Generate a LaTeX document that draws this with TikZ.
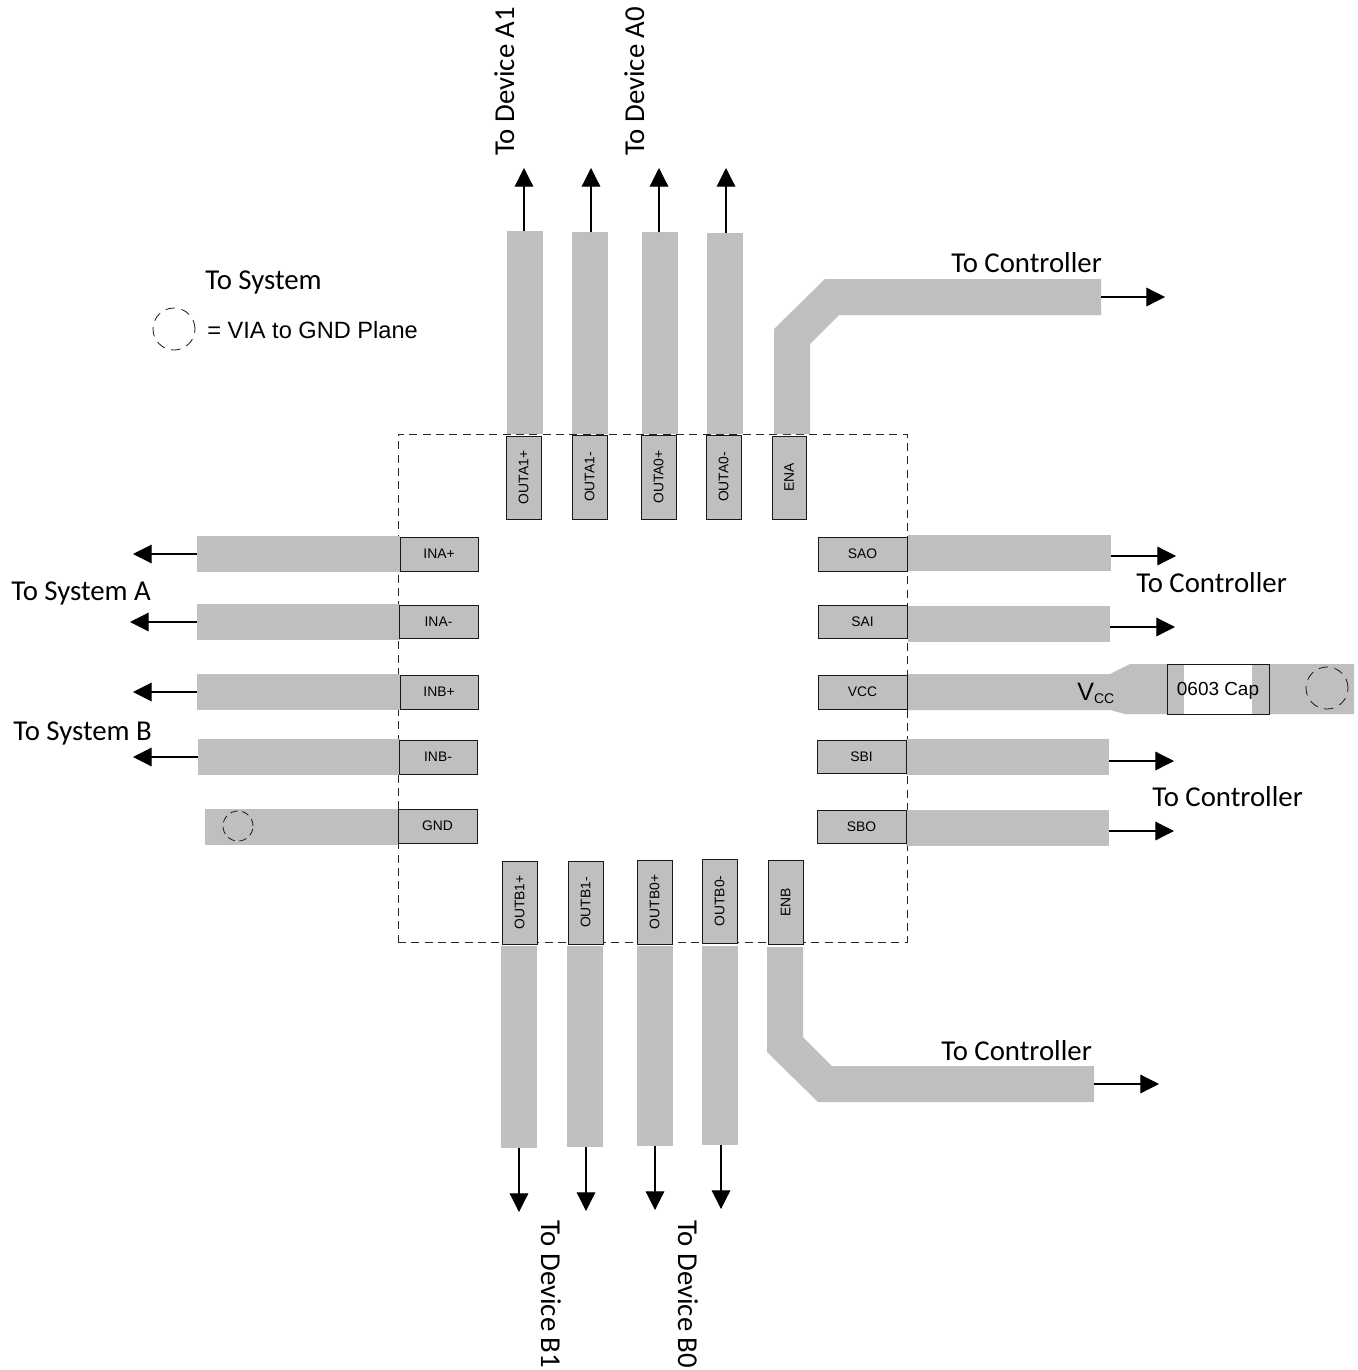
\documentclass[tikz,border=0pt]{standalone}
\usepackage{fontspec}
\setmainfont{Carlito}
\newfontfamily\arialfont{Liberation Sans}
\usetikzlibrary{arrows.meta}
\definecolor{trk}{HTML}{BFBFBF}
\tikzset{
  trk/.style={fill=trk,draw=none,inner sep=0pt,outer sep=0pt},
  pad/.style={fill=trk,draw=black!90,line width=0.7pt,inner sep=0pt,outer sep=0pt,font=\arialfont\fontsize{10.4pt}{12pt}\selectfont},
  arr/.style={draw=black,line width=0.9pt,-{Triangle[length=14pt,width=14pt]}},
  lbl/.style={font=\fontsize{21.6pt}{26pt}\selectfont,inner sep=0pt,text=black,anchor=base west},
  dashbox/.style={draw=black!85,line width=0.65pt,dash pattern=on 6pt off 4pt},
  via/.style={draw=black!90,line width=0.6pt,dash pattern=on 7pt off 5pt,circle,inner sep=0pt},
}
\newcommand{\rectnode}[7]{% style,name,x1,y1,x2,y2,text
  \node[#1,minimum width={(#5-#3)*0.75pt},minimum height={(#6-#4)*0.75pt}] (#2) at ({(#3+#5)/2},{(#4+#6)/2}) {#7};}
\begin{document}
\begin{tikzpicture}[x=0.75pt,y=-0.75pt]
\useasboundingbox (0,0) rectangle (1357,1370);
\fill[white] (0,0) rectangle (1357,1370);
% package outline
\node[dashbox,inner sep=0pt,minimum width={509*0.75pt},minimum height={508*0.75pt}] (pkg) at (652.5,688) {};
% top traces
\rectnode{trk}{ta1p}{507}{231}{543}{433.5}{}
\rectnode{trk}{ta1n}{572}{232}{608}{433.5}{}
\rectnode{trk}{ta0p}{642}{232}{678}{433.5}{}
\rectnode{trk}{ta0n}{707}{233}{743}{433.5}{}
\fill[trk] (774,434) -- (774,329) -- (825,279) -- (1101,279) -- (1101,315) -- (839,315) -- (810,344) -- (810,434) -- cycle;
% bottom traces
\rectnode{trk}{tb1p}{501}{946}{537}{1148}{}
\rectnode{trk}{tb1n}{567}{946}{603}{1147}{}
\rectnode{trk}{tb0p}{637}{946}{673}{1146}{}
\rectnode{trk}{tb0n}{702}{946}{738}{1145}{}
\fill[trk] (767,947) -- (803,947) -- (803,1037) -- (832,1066) -- (1094,1066) -- (1094,1102) -- (818,1102) -- (767,1052) -- cycle;
% left traces
\rectnode{trk}{tinap}{197}{536}{400}{572}{}
\rectnode{trk}{tinan}{197}{604}{400}{640}{}
\rectnode{trk}{tinbp}{197}{674}{400}{710}{}
\rectnode{trk}{tinbn}{198}{739}{400}{775}{}
\rectnode{trk}{tgnd}{205}{809}{398}{845}{}
% right traces
\rectnode{trk}{tsao}{908}{535}{1111}{571}{}
\rectnode{trk}{tsai}{908}{606}{1110}{642}{}
\rectnode{trk}{tsbi}{906}{739}{1109}{775}{}
\rectnode{trk}{tsbo}{906}{810}{1109}{846}{}
\fill[trk] (908,674) -- (1110,674) -- (1130,664) -- (1354,664) -- (1354,714) -- (1125,714) -- (1110,710) -- (908,710) -- cycle;
% capacitor
\rectnode{fill=white,inner sep=0pt}{capw}{1184}{665}{1252}{714}{}
\rectnode{draw=black!90,line width=0.7pt,inner sep=0pt}{cap}{1167}{664}{1269}{714}{}
\node[inner sep=0pt,font=\arialfont\fontsize{14.2pt}{16pt}\selectfont] (caplabel) at (1218,691) {0603 Cap};
% pads
\rectnode{pad}{OA1P}{506}{436}{541}{519}{\rotatebox{90}{OUTA1+}}
\rectnode{pad}{OA1N}{572}{435}{607}{519}{\rotatebox{90}{OUTA1-}}
\rectnode{pad}{OA0P}{641}{435}{676}{519}{\rotatebox{90}{OUTA0+}}
\rectnode{pad}{OA0N}{706}{435}{741}{519}{\rotatebox{90}{OUTA0-}}
\rectnode{pad}{ENA}{772}{436}{806}{519}{\rotatebox{90}{ENA}}
\rectnode{pad}{OB1P}{502}{861}{537}{944}{\rotatebox{90}{OUTB1+}}
\rectnode{pad}{OB1N}{568}{861}{603}{944}{\rotatebox{90}{OUTB1-}}
\rectnode{pad}{OB0P}{637}{860}{672}{944}{\rotatebox{90}{OUTB0+}}
\rectnode{pad}{OB0N}{702}{859}{737}{943}{\rotatebox{90}{OUTB0-}}
\rectnode{pad}{ENB}{768}{860}{803}{944}{\rotatebox{90}{ENB}}
\rectnode{pad}{INAP}{400}{537}{478}{571}{INA+}
\rectnode{pad}{INAN}{399}{605}{478}{638}{INA-}
\rectnode{pad}{INBP}{400}{675}{478}{709}{INB+}
\rectnode{pad}{INBN}{399}{740}{477}{774}{INB-}
\rectnode{pad}{GND}{398}{809}{477}{843}{GND}
\rectnode{pad}{SAO}{818}{537}{907}{571}{SAO}
\rectnode{pad}{SAI}{818}{605}{907}{638}{SAI}
\rectnode{pad}{VCC}{818}{675}{907}{709}{VCC}
\rectnode{pad}{SBI}{817}{740}{906}{773}{SBI}
\rectnode{pad}{SBO}{817}{810}{906}{843}{SBO}
% vias
\node[via,minimum size={42*0.75pt}] (viaLegend) at (174,329) {};
\node[via,minimum size={42*0.75pt}] (viaCap) at (1327,688) {};
\node[via,minimum size={30*0.75pt},dash pattern=on 5.5pt off 3.5pt] (viaGnd) at (238,826) {};
% arrow ends
\coordinate (ea1p) at (524,168);
\coordinate (ea1n) at (591,168);
\coordinate (ea0p) at (659,168);
\coordinate (ea0n) at (726,168);
\coordinate (eb1p) at (519,1212);
\coordinate (eb1n) at (586,1211);
\coordinate (eb0p) at (655,1210);
\coordinate (eb0n) at (721,1209);
\coordinate (einap) at (133,554);
\coordinate (einan) at (130,622);
\coordinate (einbp) at (133,692);
\coordinate (einbn) at (133,757);
\coordinate (sao0) at (1111,556);
\coordinate (sao1) at (1176,556);
\coordinate (sai0) at (1110,627);
\coordinate (sai1) at (1175,627);
\coordinate (sbi0) at (1109,761);
\coordinate (sbi1) at (1174,761);
\coordinate (sbo0) at (1109,831);
\coordinate (sbo1) at (1174,831);
\coordinate (ena0) at (1101,297);
\coordinate (ena1) at (1165,297);
\coordinate (enb0) at (1094,1084);
\coordinate (enb1) at (1159,1084);
% arrows
\draw[arr] (ea1p |- ta1p.north) -- (ea1p);
\draw[arr] (ea1n |- ta1n.north) -- (ea1n);
\draw[arr] (ea0p |- ta0p.north) -- (ea0p);
\draw[arr] (ea0n |- ta0n.north) -- (ea0n);
\draw[arr] (eb1p |- tb1p.south) -- (eb1p);
\draw[arr] (eb1n |- tb1n.south) -- (eb1n);
\draw[arr] (eb0p |- tb0p.south) -- (eb0p);
\draw[arr] (eb0n |- tb0n.south) -- (eb0n);
\draw[arr] (tinap.west) -- (einap);
\draw[arr] (tinan.west) -- (einan);
\draw[arr] (tinbp.west) -- (einbp);
\draw[arr] (tinbn.west) -- (einbn);
\draw[arr] (sao0) -- (sao1);
\draw[arr] (sai0) -- (sai1);
\draw[arr] (sbi0) -- (sbi1);
\draw[arr] (sbo0) -- (sbo1);
\draw[arr] (ena0) -- (ena1);
\draw[arr] (enb0) -- (enb1);
% labels
\node[lbl,rotate=90] (la1) at (514,156) {To Device A1};
\node[lbl,rotate=90] (la0) at (644,156) {To Device A0};
\node[lbl,rotate=-90] (lb1t) at (541,1220) {To Device B1};
\node[lbl,rotate=-90] (lb0t) at (678,1220) {To Device B0};
\node[lbl] (c1) at (951,272) {To Controller};
\node[lbl] (c2) at (1136,592) {To Controller};
\node[lbl] (c3) at (1152,806) {To Controller};
\node[lbl] (c4) at (941,1060) {To Controller};
\node[lbl] (sys) at (205,289) {To System};
\node[lbl] (sa) at (11,600) {To System A};
\node[lbl] (sb) at (13,740) {To System B};
\node[anchor=base west,inner sep=0pt,font=\arialfont\fontsize{17.7pt}{20pt}\selectfont] (leg) at (207,338) {= VIA to GND Plane};
\node[anchor=base west,inner sep=0pt,font=\arialfont\fontsize{18.8pt}{22pt}\selectfont] (vcc) at (1077,700) {V\raisebox{-2.25pt}{\fontsize{10.5pt}{12pt}\selectfont CC}};
\end{tikzpicture}
\end{document}
